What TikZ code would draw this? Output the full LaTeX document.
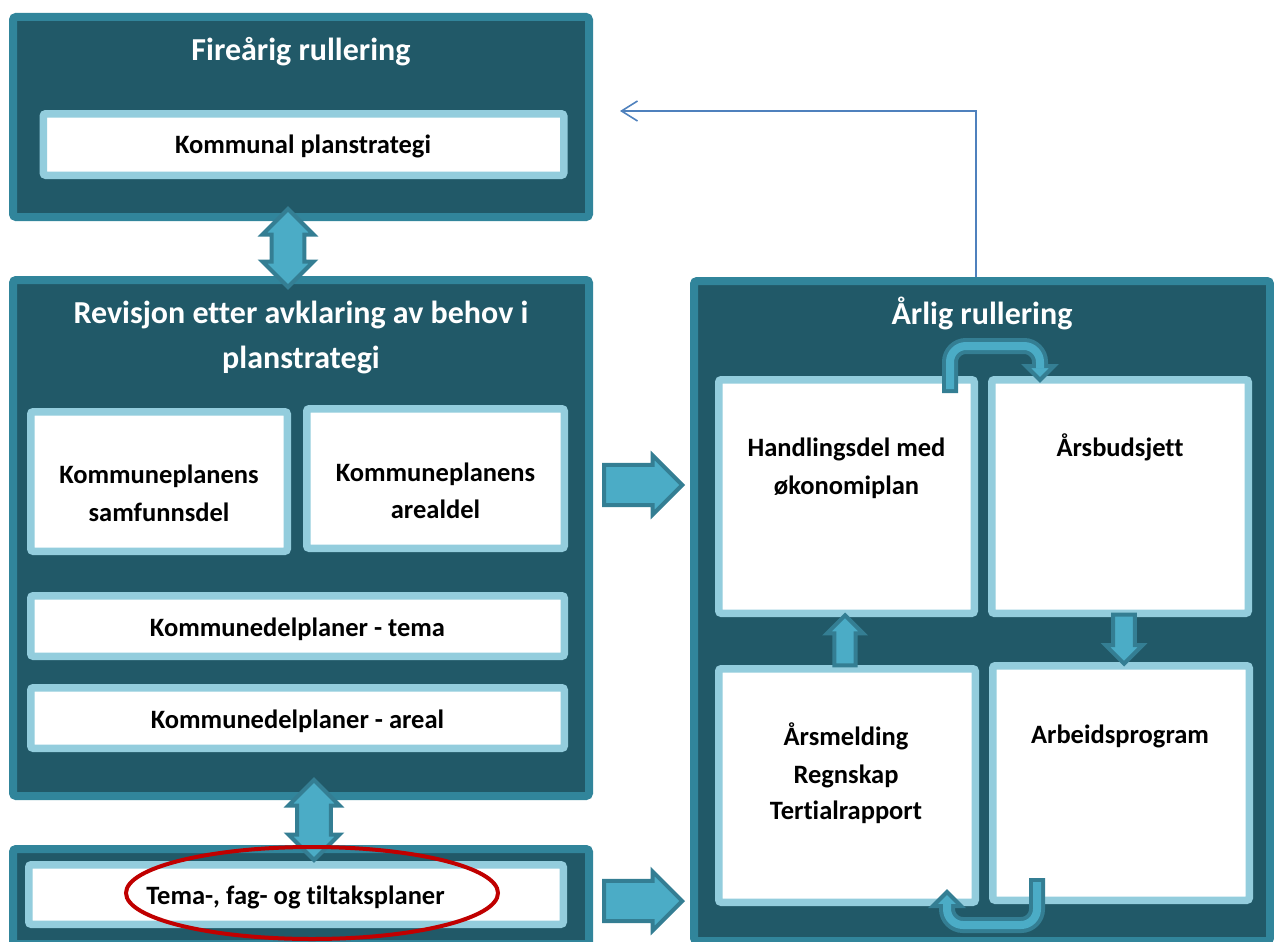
\documentclass[tikz,border=0pt]{standalone}
\usepackage{fontspec}
\setmainfont{Carlito}[Ligatures=NoCommon]
\usetikzlibrary{arrows.meta,shapes.arrows,shapes.geometric}
\definecolor{dkfill}{RGB}{33,89,104}
\definecolor{tealb}{RGB}{49,133,155}
\definecolor{lightb}{RGB}{147,205,221}
\definecolor{arrowf}{RGB}{75,172,198}
\definecolor{arrowd}{RGB}{52,126,147}
\definecolor{redc}{RGB}{192,0,0}
\definecolor{fblue}{RGB}{79,129,189}
\tikzset{
  outerbox/.style={draw=tealb, fill=dkfill, line width=8pt, rounded corners=3pt, inner sep=0pt},
  innerbox/.style={draw=lightb, fill=white, line width=7.5pt, rounded corners=2.5pt, inner sep=0pt},
  titletext/.style={text=white, font=\bfseries\fontsize{32}{45}\selectfont, inner sep=0pt, anchor=base},
  bodytext/.style={text=black, font=\bfseries\fontsize{26.5}{38}\selectfont, inner sep=0pt, anchor=base},
  blockarrow/.style={fill=arrowf, draw=arrowd, line width=4pt, inner xsep=0pt},
  uouter/.style={draw=arrowd, line width=16pt, rounded corners=16pt},
  uinner/.style={draw=arrowf, line width=8pt, rounded corners=16pt},
  uhead/.style={fill=arrowf, draw=arrowd, line width=4pt, line join=miter},
  fbline/.style={draw=fblue, line width=1.6pt, -{Straight Barb[length=16pt,width=20pt]}}
}
\begin{document}
\begin{tikzpicture}[x=1pt,y=-1pt]
\clip (0,0) rectangle (1274,942);
% outer frames
\node[outerbox, minimum width=576pt, minimum height=200pt] (topbox) at (301,117) {};
\node[outerbox, minimum width=576pt, minimum height=516pt] (midbox) at (301,538) {};
\node[outerbox, minimum width=576pt, minimum height=95pt] (botbox) at (301,896.5) {};
\node[outerbox, minimum width=576pt, minimum height=660pt] (rbox) at (982,611) {};
% inner boxes
\node[innerbox, minimum width=520.5pt, minimum height=61.5pt] (kp) at (303.5,144.5) {};
\node[innerbox, minimum width=256.5pt, minimum height=139.5pt] (samf) at (159,481.5) {};
\node[innerbox, minimum width=257.5pt, minimum height=139.5pt] (areal) at (435.5,478.5) {};
\node[innerbox, minimum width=533.5pt, minimum height=60.5pt] (tema) at (297.5,626) {};
\node[innerbox, minimum width=533.5pt, minimum height=60.5pt] (kdareal) at (297.5,718) {};
\node[innerbox, minimum width=534.5pt, minimum height=59.5pt] (tiltak) at (296,894.5) {};
\node[innerbox, minimum width=255.5pt, minimum height=233.5pt] (handl) at (846.5,496.5) {};
\node[innerbox, minimum width=256.5pt, minimum height=233.5pt] (budsj) at (1120,496.5) {};
\node[innerbox, minimum width=256.5pt, minimum height=233.5pt] (aarsm) at (847,785.5) {};
\node[innerbox, minimum width=256.5pt, minimum height=234.5pt] (arbeid) at (1121,783) {};
% texts
\node[titletext] (t1) at (301,60) {Fireårig rullering};
\node[bodytext] (kpt) at (303,153) {Kommunal planstrategi};
\node[titletext] (t2a) at (301,323) {Revisjon etter avklaring av behov i};
\node[titletext] (t2b) at (301,368) {planstrategi};
\node[bodytext] (samfa) at (159,483) {Kommuneplanens};
\node[bodytext] (samfb) at (159,521) {samfunnsdel};
\node[bodytext] (areala) at (435.5,481) {Kommuneplanens};
\node[bodytext] (arealb) at (435.5,518) {arealdel};
\node[bodytext] (temat) at (297.5,636) {Kommunedelplaner - tema};
\node[bodytext] (kdarealt) at (297.5,728) {Kommunedelplaner - areal};
\node[bodytext] (tiltakt) at (295.5,904) {Tema-, fag- og tiltaksplaner};
\node[titletext] (t3) at (982,324) {Årlig rullering};
\node[bodytext] (handla) at (846.5,456) {Handlingsdel med};
\node[bodytext] (handlb) at (846.5,494) {økonomiplan};
\node[bodytext] (budsjt) at (1120,456) {Årsbudsjett};
\node[bodytext] (aarsma) at (846,745) {Årsmelding};
\node[bodytext] (aarsmb) at (846,783) {Regnskap};
\node[bodytext] (aarsmc) at (846,819) {Tertialrapport};
\node[bodytext] (arbeidt) at (1120,743) {Arbeidsprogram};
% block arrows between frames
\node[blockarrow, double arrow, rotate=90, minimum height=78pt, minimum width=51pt, inner ysep=11pt] (da1) at (288,248) {};
\node[blockarrow, double arrow, rotate=90, minimum height=80pt, minimum width=51pt, inner ysep=12pt] (da2) at (314,820) {};
\node[blockarrow, single arrow, anchor=tip, minimum height=78pt, minimum width=59pt, inner ysep=13.5pt] (sa1) at (685,485) {};
\node[blockarrow, single arrow, anchor=tip, minimum height=78pt, minimum width=59pt, inner ysep=13.5pt] (sa2) at (685,901) {};
\node[blockarrow, single arrow, rotate=90, anchor=tip, minimum height=50pt, minimum width=36pt, inner ysep=8pt] (up1) at (845,612.5) {};
\node[blockarrow, single arrow, rotate=-90, anchor=tip, minimum height=49pt, minimum width=37pt, inner ysep=8pt] (dn1) at (1124,666.5) {};
% U-shaped arrows
\coordinate (u1s) at (950,393);
\coordinate (u1i) at (950,389);
\coordinate (u1e) at (1040,367);
\draw[uouter] (u1s) -- (950,346) -- (1040,346) -- (u1e);
\draw[uhead] (1026,366) -- (1054,366) -- (1040,380) -- cycle;
\draw[uinner] (u1i) -- (950,346) -- (1040,346) -- (1040,368.5);
\coordinate (u2s) at (1037,878);
\coordinate (u2i) at (1037,882);
\coordinate (u2e) at (947,905);
\draw[uouter] (u2s) -- (1037,925) -- (947,925) -- (u2e);
\draw[uhead] (933,906) -- (961,906) -- (947,892) -- cycle;
\draw[uinner] (u2i) -- (1037,925) -- (947,925) -- (947,903.5);
% feedback line
\coordinate (fs) at (976,277);
\coordinate (fe) at (620,111);
\draw[fbline] (fs) |- (fe);
% red ring
\node[draw=redc, line width=4pt, ellipse, minimum width=372pt, minimum height=92pt, inner sep=0pt] (ring) at (312,893) {};
\end{tikzpicture}
\end{document}
